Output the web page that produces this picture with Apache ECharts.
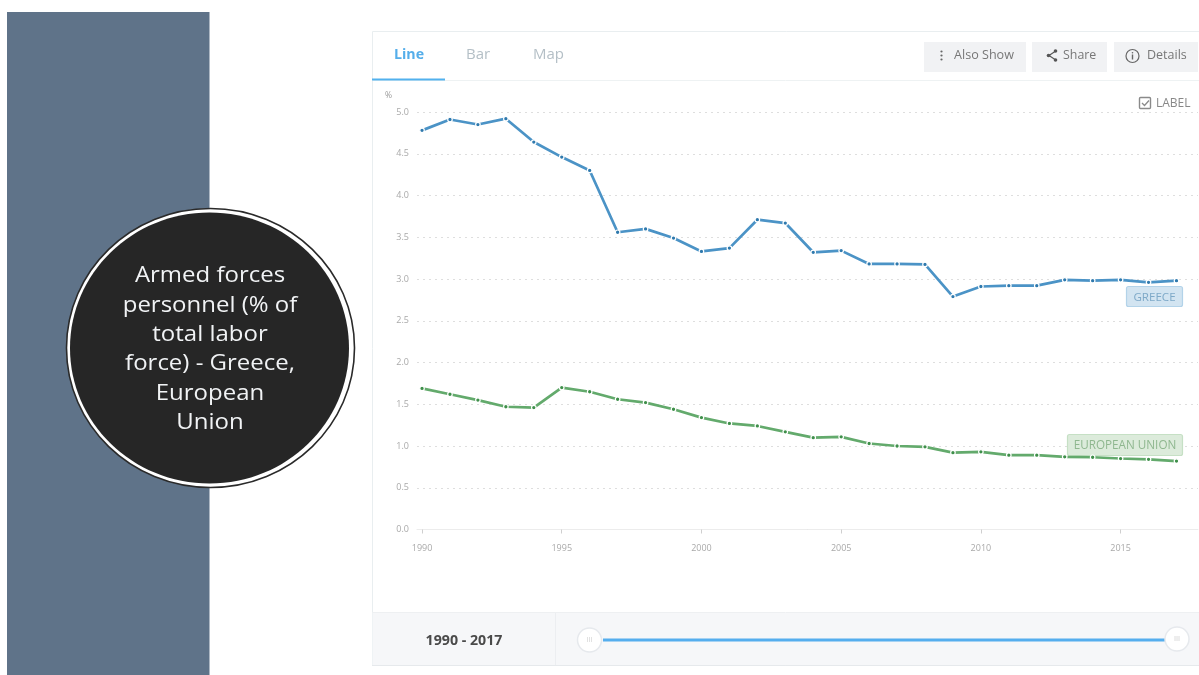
<!DOCTYPE html>
<html>
<head>
<meta charset="utf-8">
<style>html,body{margin:0;padding:0;background:#fff}#c{width:1199px;height:675px;filter:blur(0.45px)}</style>
<script src="https://cdn.jsdelivr.net/npm/echarts@6/dist/echarts.min.js"></script>
</head>
<body>
<div id="c"></div>
<script>
const years = [1990,1991,1992,1993,1994,1995,1996,1997,1998,1999,2000,2001,2002,2003,2004,2005,2006,2007,2008,2009,2010,2011,2012,2013,2014,2015,2016,2017];
const greece = [4.78,4.91,4.85,4.92,4.64,4.46,4.30,3.56,3.60,3.49,3.33,3.37,3.71,3.67,3.32,3.34,3.18,3.18,3.175,2.79,2.91,2.92,2.92,2.99,2.98,2.99,2.96,2.98];
const europeanUnion = [1.69,1.62,1.55,1.47,1.46,1.70,1.65,1.56,1.52,1.44,1.34,1.27,1.24,1.17,1.10,1.11,1.03,1.00,0.99,0.92,0.93,0.89,0.89,0.87,0.865,0.85,0.84,0.82];
const xTicks = [1990,1995,2000,2005,2010,2015];
const titleLines = ['Armed forces','personnel (% of','total labor','force) - Greece,','European','Union'];
const tabs = ['Line','Bar','Map'];

const FONT = '"Open Sans", sans-serif';
const LINE_BLUE = '#4b93c6', LINE_GREEN = '#63aa6c', TICK = '#a9a9a9';
const pairs = v => years.map((y,i)=>[y,v[i]]);
const rect = (x,y,w,h,fill,extra={}) => ({type:'rect',shape:{x,y,width:w,height:h,r:extra.r||0},style:{fill,stroke:extra.stroke,lineWidth:extra.lw||0},z:extra.z||1,silent:true});
const text = (x,y,t,size,fill,extra={}) => ({type:'text',x,y,scaleX:extra.scaleX||1,style:{text:t,fontSize:size,fill,fontFamily:extra.font||FONT,fontWeight:extra.weight||'normal',align:extra.align||'left',verticalAlign:'middle'},z:extra.z||6,silent:true});
const line = (x1,y1,x2,y2,stroke,lw,z=3) => ({type:'line',shape:{x1,y1,x2,y2},style:{stroke,lineWidth:lw},z,silent:true});
const circ = (cx,cy,r,fill,stroke,lw,z) => ({type:'circle',shape:{cx,cy,r},style:{fill,stroke,lineWidth:lw},z,silent:true});
const ell = (cx,cy,rx,ry,fill,stroke,lw,z) => ({type:'ellipse',shape:{cx,cy,rx,ry},style:{fill,stroke,lineWidth:lw},z,silent:true});

const tabX = [394,466,533];
const graphics = [
  rect(7,12,202.5,663,'#5f7389',{z:0}),
  // card outline
  rect(372.5,31.5,830,634,'none',{stroke:'#e9eef0',lw:1,z:0}),
  line(372,80.5,1199,80.5,'#eef2f3',1),
  line(372,79.5,445,79.5,'#52b1ee',2,4),
  ...tabs.map((t,i)=>text(tabX[i],55,t,i===0?14.2:15,i===0?'#55aeea':'#b4bfc6',{weight:i===0?'bold':'normal'})),
  // buttons
  rect(924,42,102,30,'#f1f2f4'),
  rect(1032,42,75,30,'#f1f2f4'),
  rect(1114,42,84,30,'#f1f2f4'),
  circ(941.5,51.5,1.1,'#666',null,0,5),circ(941.5,55.5,1.1,'#666',null,0,5),circ(941.5,59.5,1.1,'#666',null,0,5),
  text(954,55.5,'Also Show',12.6,'#777'),
  line(1049,55.5,1055,51.5,'#555',1.2,5),line(1049,55.5,1055,59.5,'#555',1.2,5),
  circ(1048.5,55.5,1.8,'#555',null,0,5),circ(1055.5,51,1.8,'#555',null,0,5),circ(1055.5,60,1.8,'#555',null,0,5),
  text(1063,55.5,'Share',12.4,'#777'),
  circ(1132.5,56,6.5,'none','#666',1.2,5),
  line(1132.5,54.5,1132.5,59.5,'#666',1.4,5),circ(1132.5,52.7,0.8,'#666',null,0,5),
  text(1147,55.5,'Details',12.5,'#777'),
  // label checkbox
  rect(1139.5,97.5,11,11,'#fff',{stroke:'#8a8a8a',lw:1.4,r:1,z:5}),
  {type:'polyline',shape:{points:[[1142,103],[1144.5,105.5],[1149,100.5]]},style:{stroke:'#8a8a8a',lineWidth:1.3,fill:'none'},z:6,silent:true},
  text(1156,104,'LABEL',12,'#888'),
  text(385,96,'%',8.5,'#9a9a9a'),
  // series labels, under the lines
  rect(1126.5,286.5,56,20,'#d2e4f1',{stroke:'#b3d3e9',lw:1.2,r:2,z:2}),
  text(1154.5,297.5,'GREECE',11.6,'#7ea9c8',{align:'center',z:3}),
  rect(1067.5,434.5,115,21,'#dcebdb',{stroke:'#c6e0c5',lw:1.2,r:2,z:2}),
  text(1125,445.5,'EUROPEAN UNION',11.7,'#8fb78f',{align:'center',z:3}),
  // bottom bar
  rect(372.5,613,827,52,'#f6f7f9',{z:1}),
  line(372,612.5,1199,612.5,'#eef0f2',1,2),
  line(372,665.5,1199,665.5,'#e6e9ec',1,2),
  line(555.5,613,555.5,665,'#eceef1',1,2),
  text(464,640.5,'1990 - 2017',14.2,'#4a4a4a',{weight:'bold',align:'center'}),
  line(603,640,1165,640,'#55aeee',3.2,3),
  circ(589.5,640,12,'#fff','#e6e9ed',1.5,4),
  circ(1177,639,12,'#fff','#e6e9ed',1.5,4),
  ...[587.5,589.5,591.5].map(x=>line(x,637,x,642,'#e2e2e2',1,5)),
  ...[1175,1177,1179].map(x=>line(x,636,x,641,'#dcdcdc',1,5)),
  // title ellipse
  ell(210.5,348,144,139.5,'#ffffff','#2a2a2a',1.6,7),
  ell(209.5,348,139.5,135.5,'#262626',null,0,8),
  ...titleLines.map((t,i)=>text(210,276+i*29.4,t,22,'#f1f3f5',{align:'center',z:9,scaleX:1.09}))
];

const chart = echarts.init(document.getElementById('c'),null,{renderer:'canvas'});
chart.setOption({
  animation:false,
  backgroundColor:'#ffffff',
  grid:{left:417,width:781,top:112,height:417.5,containLabel:false},
  xAxis:{type:'value',min:1989.82,max:2017.77,
    splitLine:{show:false},
    axisLine:{show:true,onZero:false,lineStyle:{color:'#ececec',width:1}},
    axisTick:{show:true,length:4,customValues:xTicks,lineStyle:{color:'#cfcfcf'}},
    axisLabel:{customValues:xTicks,formatter:v=>String(v),color:TICK,fontSize:9,fontFamily:FONT,margin:14}
  },
  yAxis:{type:'value',min:0,max:5,interval:0.5,
    axisLine:{show:false},axisTick:{show:false},
    axisLabel:{formatter:v=>v.toFixed(1),color:TICK,fontSize:9,fontFamily:FONT,margin:8},
    splitLine:{show:true,lineStyle:{color:'#dedede',type:[2,4],width:1}}
  },
  series:[
    {name:'Greece',type:'line',data:pairs(greece),z:4,symbol:'circle',symbolSize:4.5,showSymbol:true,
      lineStyle:{color:LINE_BLUE,width:2.7},itemStyle:{color:'#2f79ad',borderColor:'#ffffff',borderWidth:1.2}},
    {name:'European Union',type:'line',data:pairs(europeanUnion),z:4,symbol:'circle',symbolSize:4.5,showSymbol:true,
      lineStyle:{color:LINE_GREEN,width:2.7},itemStyle:{color:'#3f8f4a',borderColor:'#ffffff',borderWidth:1.2}}
  ],
  graphic:{elements:graphics}
});
</script>
</body>
</html>
